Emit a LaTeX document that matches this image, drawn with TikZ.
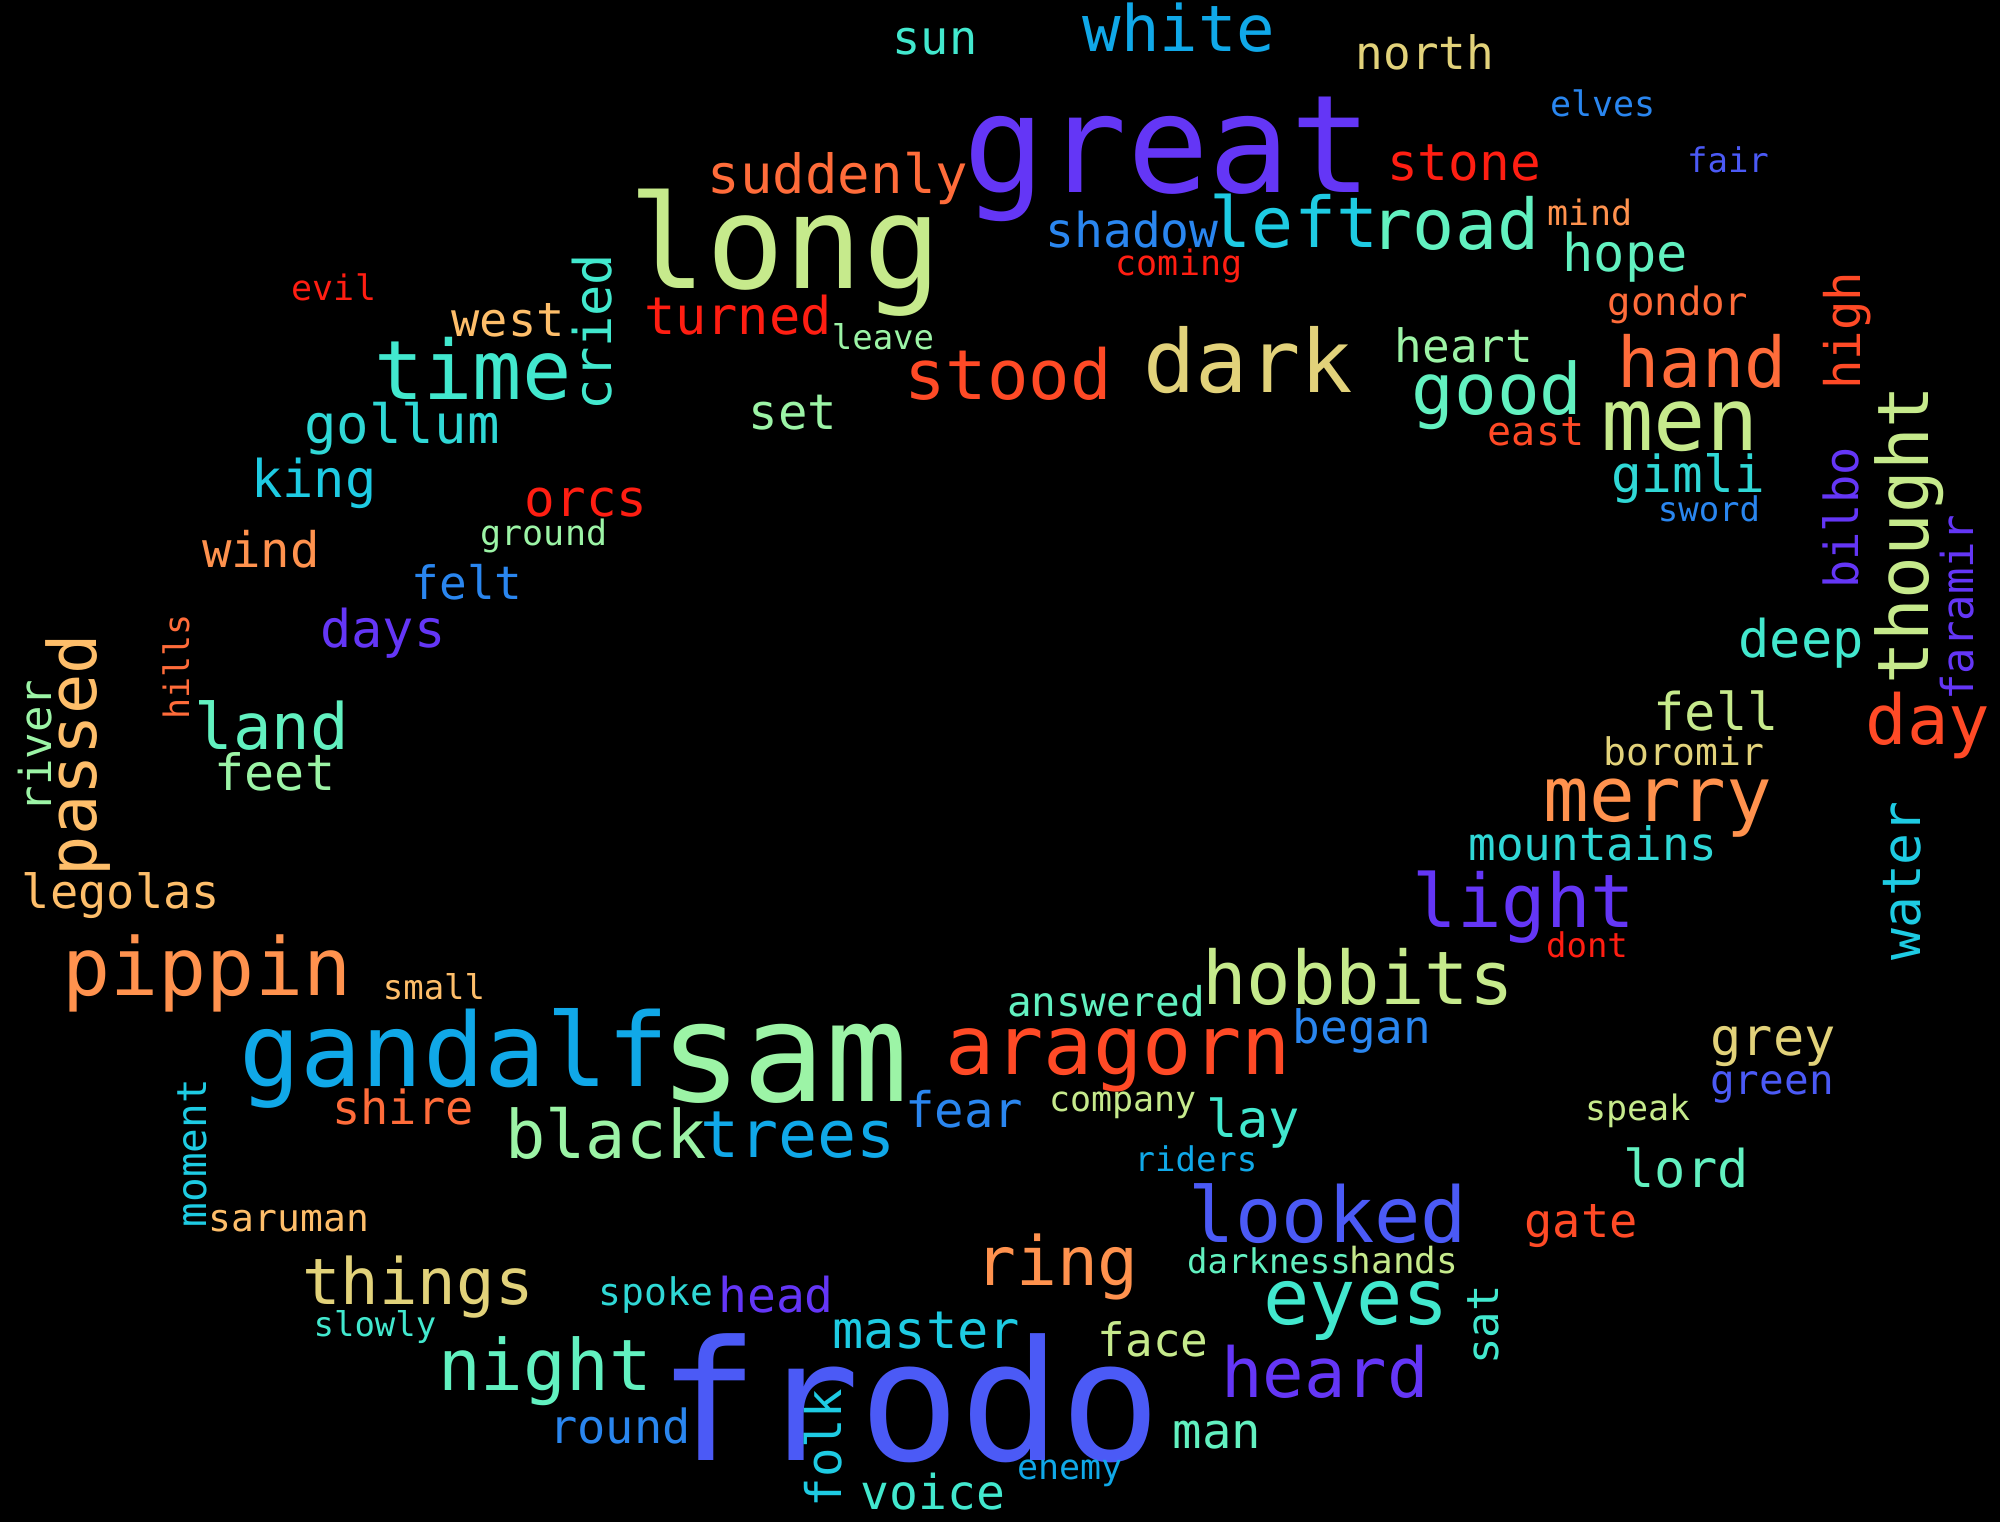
\documentclass[tikz,border=0pt]{standalone}
\usepackage{fontspec}
\setmainfont{DejaVu Sans Mono}
\newcommand{\wc}[1]{\fontsize{#1mm}{#1mm}\selectfont}
\definecolor{violet}{HTML}{6436F6}
\definecolor{indigo}{HTML}{4B5AF6}
\definecolor{blue}{HTML}{2A86EF}
\definecolor{sky}{HTML}{10A8E8}
\definecolor{cyan}{HTML}{1ECBE3}
\definecolor{turq}{HTML}{30D8D6}
\definecolor{aqua}{HTML}{42E8CE}
\definecolor{aquam}{HTML}{62F1C0}
\definecolor{lgreen}{HTML}{9CF4A6}
\definecolor{ygreen}{HTML}{C6EA8C}
\definecolor{khaki}{HTML}{E2D27A}
\definecolor{lorange}{HTML}{FEBE6A}
\definecolor{orange}{HTML}{FF924E}
\definecolor{dorange}{HTML}{FF6C3A}
\definecolor{rorange}{HTML}{FF4A26}
\definecolor{red}{HTML}{FF1E12}
\begin{document}
\begin{tikzpicture}[
            word/.style={inner sep=0pt, anchor=base},
            up/.style={word, rotate=90},
            ]
            \useasboundingbox (0,0) rectangle (20,-15.22);
            \fill[black] (0,0) rectangle (20,-15.22);
            % across
            \node (evil) [word, text=red, font=\wc{3.5}] at (3.34,-3.01) {evil};
            \node (west) [word, text=lorange, font=\wc{4.7}] at (5.08,-3.37) {west};
            \node (time) [word, text=aqua, font=\wc{8.2}] at (4.73,-4.00) {time};
            \node (gollum) [word, text=turq, font=\wc{5.4}] at (4.02,-4.44) {gollum};
            \node (king) [word, text=cyan, font=\wc{5.2}] at (3.14,-4.98) {king};
            \node (orcs) [word, text=red, font=\wc{5.1}] at (5.86,-5.17) {orcs};
            \node (ground) [word, text=lgreen, font=\wc{3.5}] at (5.44,-5.46) {ground};
            \node (wind) [word, text=orange, font=\wc{4.9}] at (2.61,-5.68) {wind};
            \node (felt) [word, text=blue, font=\wc{4.6}] at (4.67,-6.00) {felt};
            \node (days) [word, text=violet, font=\wc{5.2}] at (3.83,-6.48) {days};
            \node (land) [word, text=aquam, font=\wc{6.4}] at (2.72,-7.50) {land};
            \node (sun) [word, text=aqua, font=\wc{4.7}] at (9.35,-0.55) {sun};
            \node (white) [word, text=sky, font=\wc{6.4}] at (11.79,-0.52) {white};
            \node (great) [word, text=violet, font=\wc{13.6}] at (11.68,-1.93) {great};
            \node (suddenly) [word, text=dorange, font=\wc{5.4}] at (8.38,-1.94) {suddenly};
            \node (long) [word, text=ygreen, font=\wc{13.0}] at (7.85,-2.89) {long};
            \node (shadow) [word, text=blue, font=\wc{4.8}] at (11.32,-2.48) {shadow};
            \node (left) [word, text=cyan, font=\wc{7.0}] at (12.94,-2.48) {left};
            \node (road) [word, text=aquam, font=\wc{7.0}] at (14.55,-2.50) {road};
            \node (coming) [word, text=red, font=\wc{3.5}] at (11.79,-2.76) {coming};
            \node (turned) [word, text=red, font=\wc{5.2}] at (7.38,-3.35) {turned};
            \node (leave) [word, text=lgreen, font=\wc{3.4}] at (8.83,-3.50) {leave};
            \node (stood) [word, text=rorange, font=\wc{6.9}] at (10.08,-4.00) {stood};
            \node (dark) [word, text=khaki, font=\wc{8.7}] at (12.48,-3.93) {dark};
            \node (set) [word, text=lgreen, font=\wc{4.9}] at (7.93,-4.30) {set};
            \node (north) [word, text=khaki, font=\wc{4.6}] at (14.25,-0.70) {north};
            \node (elves) [word, text=blue, font=\wc{3.5}] at (16.03,-1.17) {elves};
            \node (stone) [word, text=red, font=\wc{5.1}] at (14.64,-1.81) {stone};
            \node (fair) [word, text=indigo, font=\wc{3.4}] at (17.28,-1.73) {fair};
            \node (mind) [word, text=orange, font=\wc{3.5}] at (15.90,-2.26) {mind};
            \node (hope) [word, text=aquam, font=\wc{5.2}] at (16.25,-2.72) {hope};
            \node (gondor) [word, text=dorange, font=\wc{3.9}] at (16.78,-3.16) {gondor};
            \node (heart) [word, text=lgreen, font=\wc{4.6}] at (14.64,-3.63) {heart};
            \node (hand) [word, text=dorange, font=\wc{7.0}] at (17.02,-3.88) {hand};
            \node (good) [word, text=aquam, font=\wc{7.1}] at (14.97,-4.15) {good};
            \node (men) [word, text=ygreen, font=\wc{8.7}] at (16.80,-4.51) {men};
            \node (east) [word, text=rorange, font=\wc{4.0}] at (15.36,-4.46) {east};
            \node (gimli) [word, text=turq, font=\wc{5.1}] at (16.88,-4.93) {gimli};
            \node (sword) [word, text=blue, font=\wc{3.4}] at (17.09,-5.22) {sword};
            \node (deep) [word, text=aqua, font=\wc{5.2}] at (18.01,-6.58) {deep};
            \node (day) [word, text=rorange, font=\wc{6.9}] at (19.28,-7.45) {day};
            \node (fell) [word, text=ygreen, font=\wc{5.2}] at (17.16,-7.31) {fell};
            \node (boromir) [word, text=khaki, font=\wc{3.8}] at (16.84,-7.66) {boromir};
            \node (feet) [word, text=lgreen, font=\wc{5.0}] at (2.75,-7.91) {feet};
            \node (legolas) [word, text=lorange, font=\wc{4.7}] at (1.21,-9.09) {legolas};
            \node (pippin) [word, text=orange, font=\wc{8.0}] at (2.07,-9.96) {pippin};
            \node (small) [word, text=lorange, font=\wc{3.4}] at (4.34,-9.99) {small};
            \node (gandalf) [word, text=sky, font=\wc{10.2}] at (4.54,-10.86) {gandalf};
            \node (shire) [word, text=dorange, font=\wc{4.7}] at (4.03,-11.24) {shire};
            \node (black) [word, text=lgreen, font=\wc{6.7}] at (6.06,-11.58) {black};
            \node (saruman) [word, text=lorange, font=\wc{3.8}] at (2.89,-12.31) {saruman};
            \node (things) [word, text=khaki, font=\wc{6.4}] at (4.18,-13.04) {things};
            \node (slowly) [word, text=aqua, font=\wc{3.4}] at (3.75,-13.36) {slowly};
            \node (spoke) [word, text=turq, font=\wc{3.8}] at (6.56,-13.05) {spoke};
            \node (night) [word, text=aquam, font=\wc{7.1}] at (5.45,-13.90) {night};
            \node (round) [word, text=blue, font=\wc{4.7}] at (6.20,-14.43) {round};
            \node (hobbits) [word, text=ygreen, font=\wc{7.4}] at (13.58,-10.04) {hobbits};
            \node (answered) [word, text=aquam, font=\wc{4.1}] at (11.06,-10.16) {answered};
            \node (sam) [word, text=lgreen, font=\wc{13.8}] at (7.84,-11.01) {sam};
            \node (aragorn) [word, text=rorange, font=\wc{8.2}] at (11.18,-10.74) {aragorn};
            \node (began) [word, text=blue, font=\wc{4.6}] at (13.62,-10.43) {began};
            \node (fear) [word, text=blue, font=\wc{4.9}] at (9.64,-11.27) {fear};
            \node (company) [word, text=ygreen, font=\wc{3.5}] at (11.23,-11.11) {company};
            \node (trees) [word, text=sky, font=\wc{6.5}] at (7.98,-11.57) {trees};
            \node (lay) [word, text=aqua, font=\wc{5.2}] at (12.53,-11.37) {lay};
            \node (riders) [word, text=sky, font=\wc{3.4}] at (11.96,-11.71) {riders};
            \node (looked) [word, text=indigo, font=\wc{7.7}] at (13.28,-12.42) {looked};
            \node (ring) [word, text=orange, font=\wc{6.8}] at (10.57,-12.85) {ring};
            \node (darkness) [word, text=aquam, font=\wc{3.4}] at (12.69,-12.73) {darkness};
            \node (hands) [word, text=ygreen, font=\wc{3.6}] at (14.04,-12.73) {hands};
            \node (eyes) [word, text=aqua, font=\wc{7.7}] at (13.56,-13.24) {eyes};
            \node (head) [word, text=violet, font=\wc{4.8}] at (7.76,-13.12) {head};
            \node (master) [word, text=cyan, font=\wc{5.2}] at (9.26,-13.48) {master};
            \node (face) [word, text=ygreen, font=\wc{4.6}] at (11.53,-13.56) {face};
            \node (heard) [word, text=violet, font=\wc{6.9}] at (13.25,-13.97) {heard};
            \node (frodo) [word, text=indigo, font=\wc{16.7}] at (9.10,-14.60) {frodo};
            \node (man) [word, text=aquam, font=\wc{4.9}] at (12.17,-14.48) {man};
            \node (enemy) [word, text=sky, font=\wc{3.5}] at (10.70,-14.79) {enemy};
            \node (voice) [word, text=aqua, font=\wc{4.8}] at (9.33,-15.09) {voice};
            \node (merry) [word, text=orange, font=\wc{7.6}] at (16.58,-8.22) {merry};
            \node (mountains) [word, text=turq, font=\wc{4.6}] at (15.93,-8.60) {mountains};
            \node (light) [word, text=violet, font=\wc{7.4}] at (15.24,-9.28) {light};
            \node (dont) [word, text=red, font=\wc{3.4}] at (15.87,-9.58) {dont};
            \node (grey) [word, text=khaki, font=\wc{5.2}] at (17.73,-10.55) {grey};
            \node (green) [word, text=indigo, font=\wc{4.1}] at (17.72,-10.94) {green};
            \node (speak) [word, text=ygreen, font=\wc{3.5}] at (16.38,-11.20) {speak};
            \node (lord) [word, text=aquam, font=\wc{5.2}] at (16.86,-11.87) {lord};
            \node (gate) [word, text=rorange, font=\wc{4.7}] at (15.81,-12.37) {gate};
            % upright
            \node (cried) [up, text=aqua, font=\wc{5.2}] at (6.11,-3.32) {cried};
            \node (hills) [up, text=dorange, font=\wc{3.5}] at (1.89,-6.67) {hills};
            \node (passed) [up, text=lorange, font=\wc{6.7}] at (0.97,-7.55) {passed};
            \node (river) [up, text=lgreen, font=\wc{4.4}] at (0.51,-7.46) {river};
            \node (high) [up, text=rorange, font=\wc{4.9}] at (18.60,-3.31) {high};
            \node (bilbo) [up, text=violet, font=\wc{4.7}] at (18.58,-5.18) {bilbo};
            \node (thought) [up, text=ygreen, font=\wc{7.1}] at (19.28,-5.35) {thought};
            \node (faramir) [up, text=violet, font=\wc{4.4}] at (19.73,-6.08) {faramir};
            \node (moment) [up, text=cyan, font=\wc{4.1}] at (2.06,-11.53) {moment};
            \node (folk) [up, text=cyan, font=\wc{4.9}] at (8.41,-14.48) {folk};
            \node (water) [up, text=cyan, font=\wc{5.3}] at (19.20,-8.81) {water};
            \node (sat) [up, text=aqua, font=\wc{4.4}] at (14.98,-13.25) {sat};
        \end{tikzpicture}
\end{document}
